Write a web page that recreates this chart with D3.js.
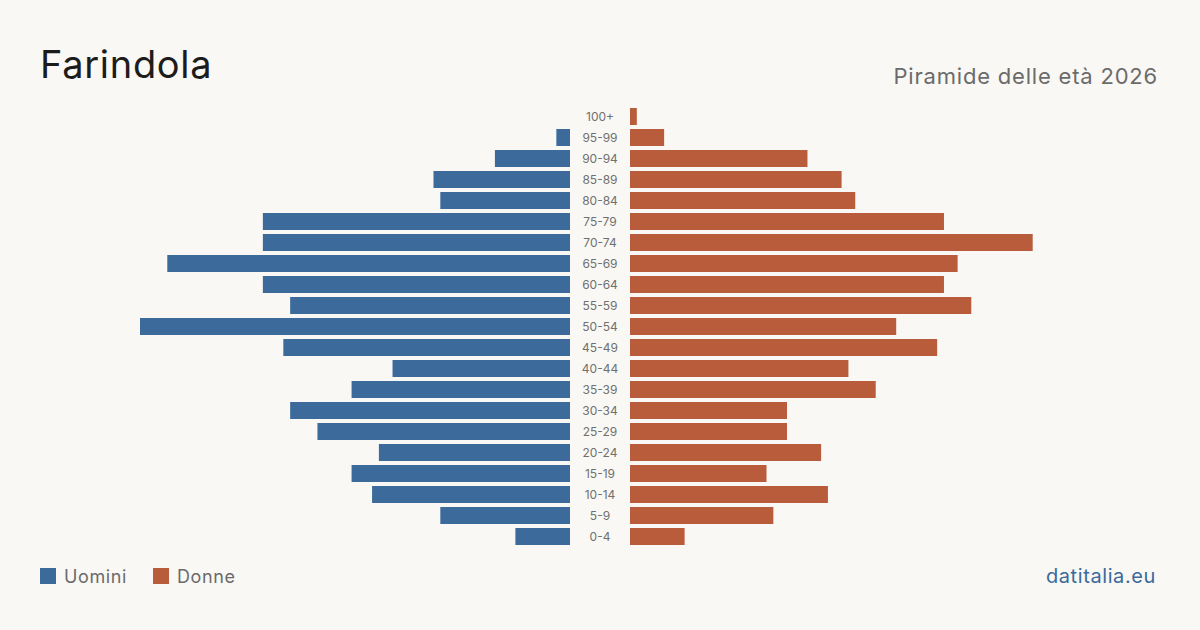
<!DOCTYPE html>
<html>
<head>
<meta charset="utf-8">
<title>Farindola - Piramide delle età 2026</title>
<script src="https://d3js.org/d3.v7.min.js"></script>
<style>
  html, body { margin: 0; padding: 0; background: #f9f8f4; }
  svg { display: block; font-family: "Inter", "Roboto", sans-serif; }
</style>
</head>
<body>
<script>
// fasce d'età, dall'alto verso il basso
const ages = ["100+", "95-99", "90-94", "85-89", "80-84", "75-79", "70-74", "65-69", "60-64",
  "55-59", "50-54", "45-49", "40-44", "35-39", "30-34", "25-29", "20-24", "15-19",
  "10-14", "5-9", "0-4"]
const uomini = [0, 2, 11, 20, 19, 45, 45, 59, 45, 41, 63, 42, 26, 32, 41, 37, 28, 32, 29, 19, 8]
const donne = [1, 5, 26, 31, 33, 46, 59, 48, 46, 50, 39, 45, 32, 36, 23, 23, 28, 20, 29, 21, 8]

const w = 1200, h = 630
const blu = "#3b6a9b", rosso = "#b95c3c"

const svg = d3.select("body").append("svg")
  .attr("width", w)
  .attr("height", h)
  .style("background-color", "#f9f8f4")

const y = d3.scaleBand()
  .domain(ages)
  .range([106, 547])
  .paddingInner(4 / 21)
  .paddingOuter(2 / 21)

const maxVal = d3.max(uomini.concat(donne))
const xL = d3.scaleLinear().domain([0, maxVal]).range([570, 140])
const xR = d3.scaleLinear().domain([0, maxVal]).range([630, 1060])

svg.append("g").selectAll("rect")
  .data(ages)
  .join("rect")
  .attr("x", (d, i) => xL(uomini[i]))
  .attr("y", d => y(d))
  .attr("width", (d, i) => xL(0) - xL(uomini[i]))
  .attr("height", y.bandwidth())
  .attr("fill", blu)

svg.append("g").selectAll("rect")
  .data(ages)
  .join("rect")
  .attr("x", xR(0))
  .attr("y", d => y(d))
  .attr("width", (d, i) => xR(donne[i]) - xR(0))
  .attr("height", y.bandwidth())
  .attr("fill", rosso)

svg.append("g").selectAll("text")
  .data(ages)
  .join("text")
  .attr("x", 600)
  .attr("y", d => y(d) + y.bandwidth() / 2)
  .attr("dy", "0.35em")
  .attr("text-anchor", "middle")
  .attr("font-size", 12)
  .attr("fill", "#707070")
  .text(d => d)

// titolo e sottotitolo
svg.append("text")
  .attr("x", 40).attr("y", 78)
  .attr("font-size", 38)
  .attr("letter-spacing", 0.7)
  .attr("fill", "#1c1c1c")
  .text("Farindola")

svg.append("text")
  .attr("x", 1158).attr("y", 84)
  .attr("text-anchor", "end")
  .attr("font-size", 22)
  .attr("letter-spacing", 0.8)
  .attr("fill", "#6b6b6b")
  .text("Piramide delle età 2026")

// legenda
const legend = [["Uomini", blu, 40], ["Donne", rosso, 153]]
const lg = svg.append("g").selectAll("g")
  .data(legend)
  .join("g")
  .attr("transform", d => `translate(${d[2]},568)`)
lg.append("rect").attr("width", 16).attr("height", 16).attr("fill", d => d[1])
lg.append("text")
  .attr("x", 24).attr("y", 15)
  .attr("font-size", 18)
  .attr("letter-spacing", 0.6)
  .attr("fill", "#6b6b6b")
  .text(d => d[0])

svg.append("text")
  .attr("x", 1156).attr("y", 583)
  .attr("text-anchor", "end")
  .attr("font-size", 20)
  .attr("letter-spacing", 0.6)
  .attr("fill", blu)
  .text("datitalia.eu")
</script>
</body>
</html>
